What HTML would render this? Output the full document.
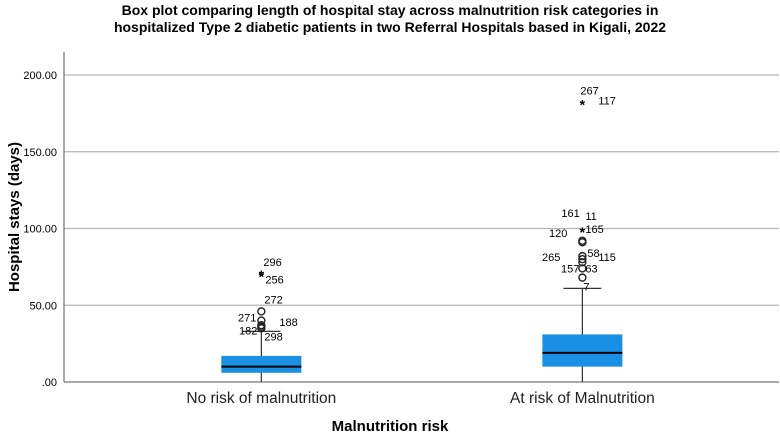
<!DOCTYPE html>
<html><head><meta charset="utf-8"><style>
body{margin:0;background:#fff;font-family:"Liberation Sans",Arial,sans-serif}
svg text{font-family:"Liberation Sans",Arial,sans-serif}
</style></head><body>
<svg id="chart" width="780" height="436" viewBox="0 0 780 436">
<text x="390" y="15" text-anchor="middle" font-size="14" font-weight="bold">Box plot comparing length of hospital stay across malnutrition risk categories in</text>
<text x="390" y="32" text-anchor="middle" font-size="14" font-weight="bold">hospitalized Type 2 diabetic patients in two Referral Hospitals based in Kigali, 2022</text>
<g id="grid"></g>
<g id="marks"></g>
<text x="390" y="431" text-anchor="middle" font-size="15" font-weight="bold">Malnutrition risk</text>
<text transform="translate(19,217) rotate(-90)" text-anchor="middle" font-size="15" font-weight="bold">Hospital stays (days)</text>
</svg>
<script>
const categories=["No risk of malnutrition","At risk of Malnutrition"];
const q1=[6,10];
const medians=[10,19];
const q3=[17,31];
const whiskerLow=[0,0];
const whiskerHigh=[33,61];
const outlierValues=[[46,40,37,36,35],[68,74,78,80,82,91,92]];
const extremeValues=[[71,70],[99,182]];
// labels: text, anchored value
const labelTexts=[["272","271","188","182","298","296","256"],["7","157","63","265","58","115","120","165","161","11","267","117"]];
const labelValues=[[46,40,37,36,35,71,70],[68,74,74,80,82,82,99,99,99,99,182,182]];
const labelDx=[[3,-5,18,-4,3,2,4],[1,-3,3,-22,5,16,-15,3,-21,3,-2,16]];
const labelDy=[[-8,1,1,8,12,-7,9],[13,4,4,2,1,5,7,3,-13,-10,-8,2]];
const labelEnd=[[0,1,0,1,0,0,0],[0,1,0,1,0,0,1,0,0,0,0,0]];
const yTicks=[0,50,100,150,200];
const yTickLabels=[".00","50.00","100.00","150.00","200.00"];
const X0=64,X1=779,Y0=382,Ytop=52;
const y=v=>Y0-v*1.535;
const x=i=>X0+(X1-X0)*(0.276+0.449*i);
const NS="http://www.w3.org/2000/svg";
function mk(tag,attrs,parent,txt){const e=document.createElementNS(NS,tag);for(const k in attrs)e.setAttribute(k,attrs[k]);if(txt!==undefined)e.textContent=txt;parent.appendChild(e);return e;}
const grid=document.getElementById('grid'),marks=document.getElementById('marks');
yTicks.forEach((t,i)=>{
 if(t>0){const l=mk('line',{x1:X0,x2:X1,y1:y(t),y2:y(t),stroke:'#b4b4b4','stroke-width':1.3},grid);
 
 }
 const tx=mk('text',{x:X0-7,y:y(t)+4,'text-anchor':'end','font-size':11},grid,yTickLabels[i]);
 
 
});
const ax=mk('line',{x1:X0,x2:X0,y1:Ytop,y2:Y0,stroke:'#555'},grid);


const bx=mk('line',{x1:X0,x2:X1,y1:Y0,y2:Y0,stroke:'#555'},grid);


categories.forEach((c,i)=>{
 const cx=x(i),hw=40;
 const g=mk('g',{},marks);
 
 
 mk('line',{x1:cx,x2:cx,y1:y(whiskerLow[i]),y2:y(whiskerHigh[i]),stroke:'#333','stroke-width':1.2},g);
 mk('line',{x1:cx-19,x2:cx+19,y1:y(whiskerHigh[i]),y2:y(whiskerHigh[i]),stroke:'#333','stroke-width':1.2},g);
 mk('rect',{x:cx-hw,y:y(q3[i]),width:hw*2,height:y(q1[i])-y(q3[i]),fill:'#1a90e5'},g);
 mk('line',{x1:cx-hw,x2:cx+hw,y1:y(medians[i]),y2:y(medians[i]),stroke:'#000','stroke-width':2},g);
 outlierValues[i].forEach(v=>{
  const o=mk('circle',{cx:cx,cy:y(v),r:3.5,fill:'none',stroke:'#222','stroke-width':1.4},marks);
  
  
 });
 extremeValues[i].forEach(v=>{
  const s=mk('text',{x:cx,y:y(v)+7,'text-anchor':'middle','font-size':14,'font-weight':'bold'},marks,'*');
  
  
 });
 labelTexts[i].forEach((t,j)=>{
  const e=mk('text',{x:cx+labelDx[i][j],y:y(labelValues[i][j])+labelDy[i][j],'text-anchor':labelEnd[i][j]?'end':'start','font-size':11},marks,t);
  
  
 });
 const lbl=mk('text',{x:cx,y:403,'text-anchor':'middle','font-size':15.5,fill:'#222'},marks,c);
 
 
});
</script>
</body></html>
